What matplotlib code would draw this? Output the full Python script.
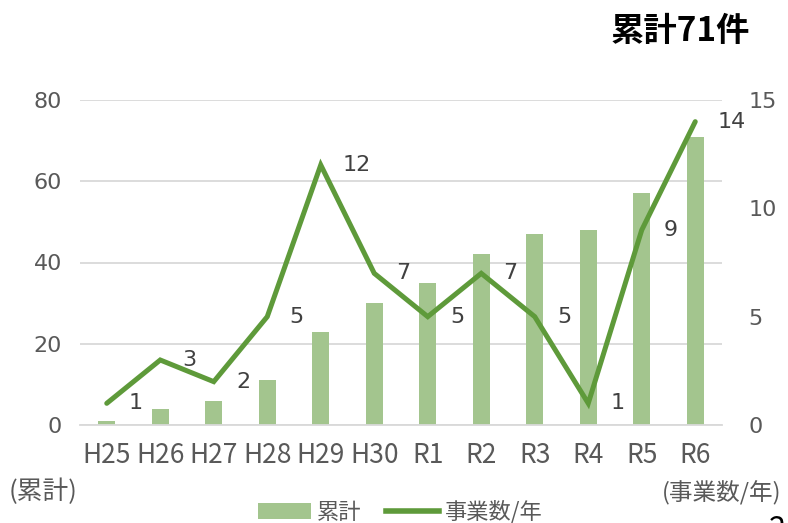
import matplotlib
matplotlib.use("Agg")
import matplotlib.pyplot as plt
from matplotlib.lines import Line2D
from matplotlib.patches import Patch
from matplotlib import font_manager

plt.rcParams['font.family'] = ['Noto Sans CJK JP', 'DejaVu Sans']

categories = ["H25", "H26", "H27", "H28", "H29", "H30", "R1", "R2", "R3", "R4", "R5", "R6"]
cumulative = [1, 4, 6, 11, 23, 30, 35, 42, 47, 48, 57, 71]
per_year = [1, 3, 2, 5, 12, 7, 5, 7, 5, 1, 9, 14]
left_ticks = [0, 20, 40, 60, 80]
right_ticks = [0, 5, 10, 15]

bar_color = "#a3c58e"
line_color = "#5e9a3a"
tick_color = "#595959"
label_color = "#404040"

names = {f.name for f in font_manager.fontManager.ttflist}
narrow = 'Liberation Sans Narrow' if 'Liberation Sans Narrow' in names else 'Noto Sans CJK JP'

fig = plt.figure(figsize=(7.88, 5.23), dpi=100)
ax = fig.add_axes([80/788, 1-425/523, (722-80)/788, (425-100)/523])
ax2 = ax.twinx()

x = list(range(len(categories)))
ax.bar(x, cumulative, width=0.32, color=bar_color, zorder=2)
ax.set_ylim(0, 80)
ax.set_xlim(-0.5, len(categories) - 0.5)
ax.set_yticks(left_ticks)
ax.grid(axis='y', color="#d9d9d9", linewidth=1.3, zorder=0)
ax.set_axisbelow(True)
ax.set_xticks(x)
ax.set_xticklabels(categories, family=[narrow, 'Noto Sans CJK JP'], fontsize=19)

ax2.plot(x, per_year, color=line_color, linewidth=3.6, solid_capstyle='round', solid_joinstyle='miter', zorder=3)
ax2.set_ylim(0, 15)
ax2.set_yticks(right_ticks)
for xi, v in zip(x, per_year):
    ax2.annotate(str(v), (xi, v), xytext=(16, 0), textcoords='offset points',
                 ha='left', va='center', fontsize=16, color=label_color,
                 family=['DejaVu Sans'])

for a in (ax, ax2):
    for s in a.spines.values():
        s.set_visible(False)
    a.tick_params(length=0, colors=tick_color)
ax.tick_params(axis='y', labelsize=16, pad=13)
ax2.tick_params(axis='y', labelsize=16, pad=19)
ax.tick_params(axis='x', pad=12)
for lab in ax.get_yticklabels() + ax2.get_yticklabels():
    lab.set_family(['DejaVu Sans'])
ax.spines['bottom'].set_visible(True)
ax.spines['bottom'].set_color("#d9d9d9")
ax.spines['bottom'].set_linewidth(1.3)

fig.text(750/788, 1-31/523, "累計71件", ha='right', va='center', fontsize=24, fontweight='bold', color='black')
fig.text(9/788, 1-492/523, "(累計)", ha='left', va='center', fontsize=18.5, color=tick_color)
fig.text(781/788, 1-493/523, "(事業数/年)", ha='right', va='center', fontsize=17, color=tick_color)
fig.text(777/788, 1-530/523, "2", ha='center', va='center', fontsize=22, color='black')

handles = [Patch(facecolor=bar_color, edgecolor='none', label="累計"),
           Line2D([0], [0], color=line_color, linewidth=4, label="事業数/年")]
fig.legend(handles=handles, loc='center', bbox_to_anchor=(400/788, 1-512/523), ncol=2,
           frameon=False, fontsize=16, handlelength=2.4, columnspacing=1.1, handletextpad=0.25,
           labelcolor=tick_color, borderpad=0)

fig.savefig("out.png", dpi=100)
